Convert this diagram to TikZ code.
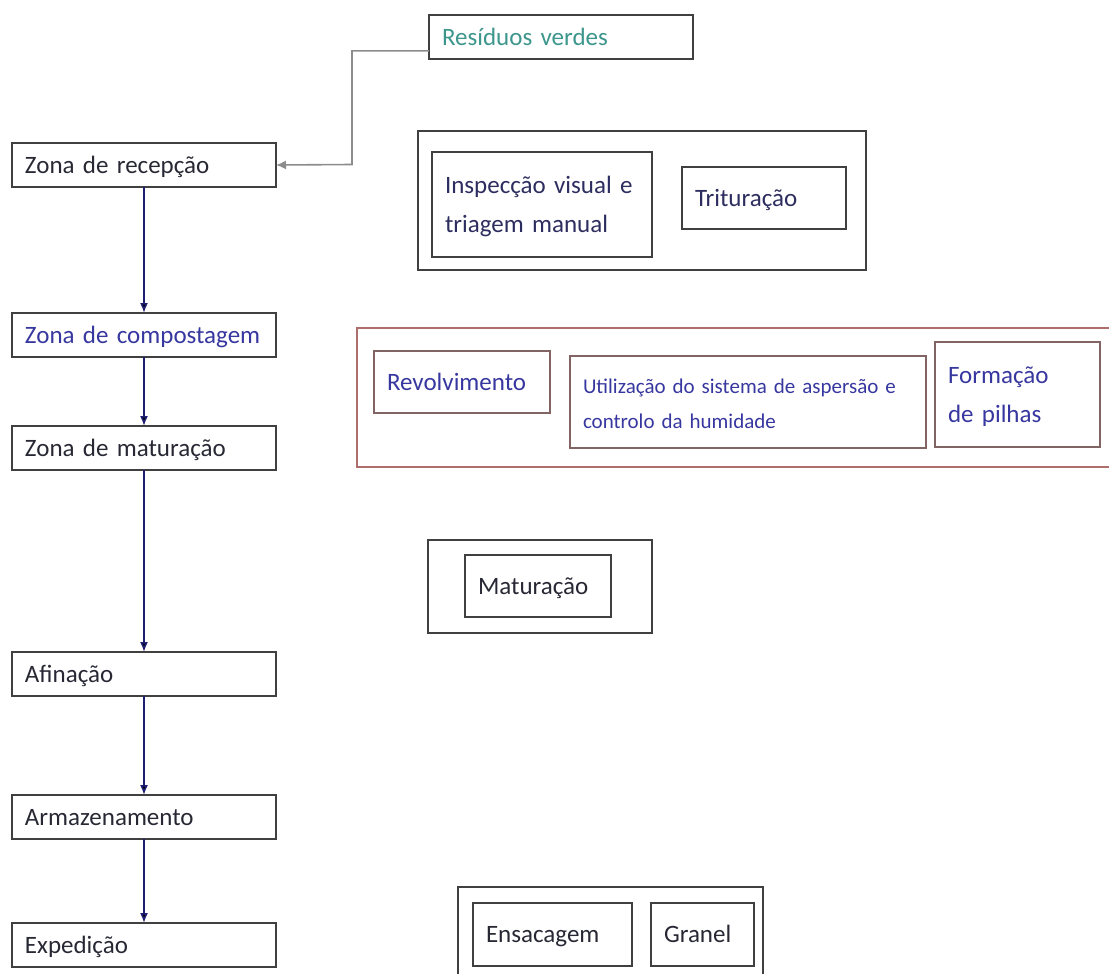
\documentclass[tikz,border=0pt]{standalone}
\usepackage{fontspec}
\setmainfont[WordSpace=0.75]{Carlito}
\usetikzlibrary{positioning}
\usetikzlibrary{arrows.meta}
\definecolor{escuro}{RGB}{40,40,52}
\definecolor{azul}{RGB}{55,55,160}
\definecolor{marinho}{RGB}{45,45,95}
\definecolor{verde}{RGB}{60,150,140}
\definecolor{azulseta}{RGB}{30,30,115}
\definecolor{borda}{RGB}{64,64,64}
\definecolor{tijolo}{RGB}{175,110,110}
\definecolor{tijoloesc}{RGB}{130,100,100}
\definecolor{cinza}{RGB}{140,140,140}

\begin{document}
\begin{tikzpicture}[x=0.5pt,y=-0.5pt,node distance=9.5pt,
	every node/.style={inner sep=0,outer sep=0,font=\fontsize{12.5}{19.5}\selectfont},
	caixa/.style={draw=borda,line width=1pt,anchor=north west,align=left,inner xsep=6.5pt,text=escuro,
		execute at begin node=\vphantom{Ág}},
	zona/.style={caixa,text width=119pt,minimum height=22pt},
	etapa/.style={caixa,draw=tijoloesc,line width=0.8pt,text=azul},
	grupo/.style={draw=borda,line width=1pt,anchor=north west},
	seta/.style={draw=azulseta,line width=0.8pt,-{Latex[length=5pt,width=4pt]}},
	ligacao/.style={draw=cinza,line width=0.8pt,-{Latex[length=5pt,width=4.5pt]}}]
	\useasboundingbox (0,0) rectangle (1109,974);
	\clip (0,0) rectangle (1109,974);
	% coluna das zonas
	\node[zona] (recepcao) at (12,143) {Zona de recepção};
	\node[zona,text=azul] (compostagem) at (12,313) {Zona de compostagem};
	\node[zona] (maturacao) at (12,426) {Zona de maturação};
	\node[zona] (afinacao) at (12,652) {Afinação};
	\node[zona] (armazenamento) at (12,795) {Armazenamento};
	\node[zona] (expedicao) at (12,923) {Expedição};
	\node[zona,text=verde] (residuos) at (429,15) {Resíduos verdes};
	% operacoes de cada zona
	\node[grupo,minimum width=224pt,minimum height=69.5pt] (rececao) at (418,131) {};
	\node[caixa,text=marinho,text width=97pt,minimum height=52.5pt] (inspeccao) at (432,152) {Inspecção visual e\\triagem manual};
	\node[caixa,text=marinho,text width=69pt,minimum height=31pt] (trituracao) at (682,167) {Trituração};
	\node[grupo,draw=tijolo,line width=0.8pt,minimum width=381.5pt,minimum height=69.5pt] (compostagem2) at (357,328) {};
	\node[etapa,text width=75pt,minimum height=31pt] (revolvimento) at (374,351) {Revolvimento};
	\node[etapa,text width=165pt,minimum height=46pt,font=\fontsize{10.5}{17.5}\selectfont] (aspersao) at (570,356) {Utilização do sistema de aspersão e\\controlo da humidade};
	\node[etapa,text width=69.5pt,minimum height=52.5pt] (pilhas) at (935,342) {Formação\\de pilhas};
	\node[grupo,minimum width=112pt,minimum height=46.5pt] (maturacao2) at (428,540) {};
	\node[caixa,text width=60pt,minimum height=31pt] (maturacao3) at (465,555) {Maturação};
	\node[grupo,minimum width=152.5pt,minimum height=60pt] (expedicao2) at (458,887) {};
	\node[caixa,text width=66.5pt,minimum height=31.5pt] (ensacagem) at (473,903) {Ensacagem};
	\node[caixa,text width=38.5pt,minimum height=31.5pt,right=of ensacagem] (granel) {Granel};
	\coordinate (dobra) at (352,164.5);
	\path[seta]
		(recepcao) edge (compostagem)
		(compostagem) edge (maturacao)
		(maturacao) edge (afinacao)
		(afinacao) edge (armazenamento)
		(armazenamento) edge (expedicao);
	\draw[ligacao] (residuos.186) -| (dobra) -- (recepcao.east);
\end{tikzpicture}
\end{document}
